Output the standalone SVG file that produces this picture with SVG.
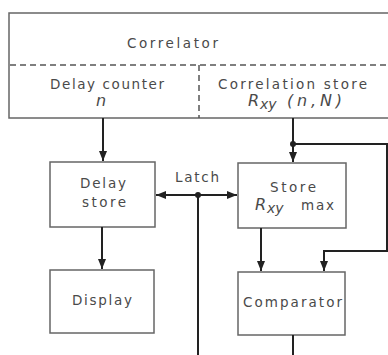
<svg xmlns="http://www.w3.org/2000/svg" width="388" height="355" viewBox="0 0 388 355">
<defs>
<marker id="ah" viewBox="0 0 10 10" refX="10" refY="5" markerWidth="10" markerHeight="10" markerUnits="userSpaceOnUse" orient="auto">
<path d="M0,1 L10,5 L0,9 Z" fill="#222"/>
</marker>
</defs>
<style>
.box{fill:#fff;stroke:#666;stroke-width:1.5}
.dash{fill:none;stroke:#555;stroke-width:1.5;stroke-dasharray:6 4}
.c{fill:none;stroke:#222;stroke-width:2}
.t{font-family:"DejaVu Sans","Liberation Sans",sans-serif;font-size:13.5px;fill:#4a4a4a}
.i{font-style:italic;font-size:16px}
.s{font-size:14px}
</style>
<rect width="388" height="355" fill="#fff"/>
<g id="correlator">
<rect class="box" x="9" y="13" width="400" height="105"/>
<line class="dash" x1="10" y1="65" x2="388" y2="65"/>
<line class="dash" x1="199" y1="65" x2="199" y2="118"/>
<text class="t" x="127" y="48" textLength="91" lengthAdjust="spacing">Correlator</text>
<text class="t" x="50" y="89" textLength="114" lengthAdjust="spacing">Delay counter</text>
<text class="t i" x="96" y="106">n</text>
<text class="t" x="218" y="89" textLength="149" lengthAdjust="spacing">Correlation store</text>
<text class="t i" x="248" y="106">R<tspan class="s" dy="3" x="260">xy</tspan><tspan dy="-3" x="287" textLength="55" lengthAdjust="spacing">(n,N)</tspan></text>
</g>
<g id="delay-store">
<rect class="box" x="50" y="162" width="105" height="65"/>
<text class="t" x="80" y="188" textLength="46" lengthAdjust="spacing">Delay</text>
<text class="t" x="82" y="207" textLength="44" lengthAdjust="spacing">store</text>
</g>
<g id="store-rxy-max">
<rect class="box" x="238" y="163" width="108" height="65"/>
<text class="t" x="270" y="192" textLength="46" lengthAdjust="spacing">Store</text>
<text class="t i" x="255" y="210">R<tspan class="s" dy="3" x="267">xy</tspan></text>
<text class="t" x="301" y="210" textLength="33" lengthAdjust="spacing">max</text>
</g>
<g id="display">
<rect class="box" x="50" y="270" width="104" height="63"/>
<text class="t" x="72" y="305" textLength="60" lengthAdjust="spacing">Display</text>
</g>
<g id="comparator">
<rect class="box" x="238" y="272" width="107" height="63"/>
<text class="t" x="243" y="307" textLength="99" lengthAdjust="spacing">Comparator</text>
</g>
<g id="connectors">
<line class="c" x1="103" y1="118" x2="103" y2="161" marker-end="url(#ah)"/>
<line class="c" x1="293" y1="118" x2="293" y2="162" marker-end="url(#ah)"/>
<polyline class="c" points="293,144 387,144 387,251 324,251 324,271" marker-end="url(#ah)"/>
<circle cx="293" cy="144" r="3" fill="#222"/>
<line class="c" x1="198" y1="195" x2="156" y2="195" marker-end="url(#ah)"/>
<line class="c" x1="198" y1="195" x2="237" y2="195" marker-end="url(#ah)"/>
<line class="c" x1="198" y1="195" x2="198" y2="355"/>
<circle cx="198" cy="195" r="3" fill="#222"/>
<text class="t" x="175" y="182" textLength="44" lengthAdjust="spacing">Latch</text>
<line class="c" x1="102" y1="227" x2="102" y2="269" marker-end="url(#ah)"/>
<line class="c" x1="261" y1="228" x2="261" y2="271" marker-end="url(#ah)"/>
<line class="c" x1="293" y1="335" x2="293" y2="355"/>
</g>
</svg>
